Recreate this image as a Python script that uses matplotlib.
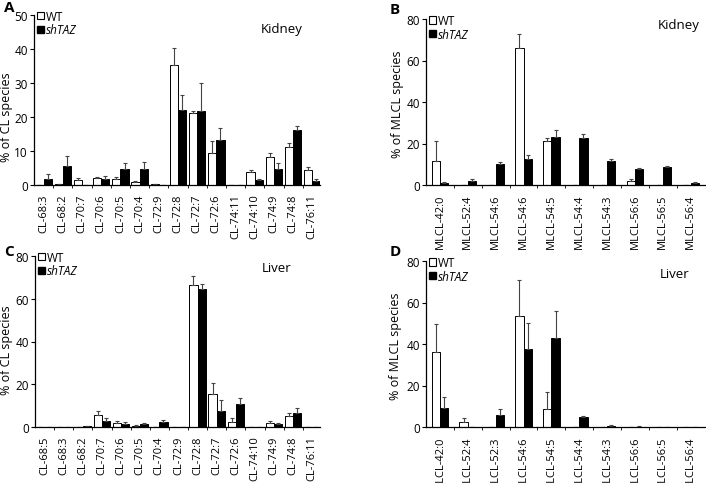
import numpy as np
import matplotlib
matplotlib.use('Agg')
import matplotlib.pyplot as plt
from matplotlib.patches import Patch

plt.rcParams['font.family'] = ['Open Sans', 'DejaVu Sans']

# A: kidney CL species
cl_kidney = ['CL-68:3', 'CL-68:2', 'CL-70:7', 'CL-70:6', 'CL-70:5', 'CL-70:4', 'CL-72:9',
             'CL-72:8', 'CL-72:7', 'CL-72:6', 'CL-74:11', 'CL-74:10', 'CL-74:9', 'CL-74:8', 'CL-76:11']
a_wt = [0.1, 0.3, 1.5, 2.0, 1.8, 0.8, 0.3, 35.3, 21.1, 9.3, 0.1, 3.9, 8.3, 11.1, 4.3]
a_wt_err = [0.0, 0.1, 0.5, 0.5, 0.7, 0.3, 0.0, 5.0, 0.8, 3.5, 0.0, 0.4, 1.0, 1.2, 0.9]
a_sh = [1.9, 5.6, 0.1, 1.9, 4.8, 4.7, 0.1, 22.2, 21.8, 13.2, 0.1, 1.5, 4.6, 16.2, 1.2]
a_sh_err = [1.3, 3.0, 0.0, 0.7, 1.6, 2.2, 0.0, 4.2, 8.2, 3.5, 0.0, 0.3, 1.8, 1.3, 0.6]

# B: kidney MLCL species
mlcl_kidney = ['MLCL-42:0', 'MLCL-52:4', 'MLCL-54:6', 'MLCL-54:6', 'MLCL-54:5', 'MLCL-54:4',
               'MLCL-54:3', 'MLCL-56:6', 'MLCL-56:5', 'MLCL-56:4']
b_wt = [11.4, 0.0, 0.0, 65.8, 21.0, 0.0, 0.0, 1.9, 0.0, 0.0]
b_wt_err = [9.6, 0.0, 0.0, 6.8, 1.5, 0.0, 0.0, 1.2, 0.0, 0.0]
b_sh = [1.0, 2.1, 10.2, 12.7, 23.2, 22.8, 11.4, 7.7, 8.8, 1.2]
b_sh_err = [0.3, 0.8, 0.8, 1.6, 3.2, 2.0, 1.1, 0.4, 0.3, 0.4]

# C: liver CL species
cl_liver = ['CL-68:5', 'CL-68:3', 'CL-68:2', 'CL-70:7', 'CL-70:6', 'CL-70:5', 'CL-70:4', 'CL-72:9',
            'CL-72:8', 'CL-72:7', 'CL-72:6', 'CL-74:10', 'CL-74:9', 'CL-74:8', 'CL-76:11']
c_wt = [0.0, 0.0, 0.0, 5.8, 1.9, 0.5, 0.0, 0.0, 66.5, 15.3, 2.5, 0.0, 1.9, 5.2, 0.0]
c_wt_err = [0.0, 0.0, 0.0, 1.9, 1.1, 0.3, 0.0, 0.0, 4.2, 5.2, 1.5, 0.0, 1.0, 1.3, 0.0]
c_sh = [0.0, 0.0, 0.3, 2.9, 1.6, 1.5, 2.5, 0.0, 64.6, 7.6, 10.8, 0.0, 1.3, 6.6, 0.0]
c_sh_err = [0.0, 0.0, 0.0, 1.3, 0.6, 0.6, 0.9, 0.0, 2.5, 5.1, 2.9, 0.0, 0.8, 2.3, 0.0]

# D: liver MLCL species
mlcl_liver = ['MLCL-42:0', 'MLCL-52:4', 'MLCL-52:3', 'MLCL-54:6', 'MLCL-54:5', 'MLCL-54:4',
              'MLCL-54:3', 'MLCL-56:6', 'MLCL-56:5', 'MLCL-56:4']
d_wt = [36.0, 2.2, 0.0, 53.3, 8.8, 0.0, 0.0, 0.0, 0.0, 0.0]
d_wt_err = [13.8, 2.1, 0.0, 17.7, 8.0, 0.0, 0.0, 0.0, 0.0, 0.0]
d_sh = [9.3, 0.0, 5.6, 37.4, 42.7, 4.6, 0.5, 0.2, 0.0, 0.1]
d_sh_err = [5.3, 0.0, 3.0, 12.5, 13.1, 0.8, 0.4, 0.2, 0.0, 0.0]

W, H = 706, 485
fig = plt.figure(figsize=(W / 100, H / 100), dpi=100)


def px_axes(left, right, bottom, top):
    ax = fig.add_axes([left / W, 1 - bottom / H, (right - left) / W, (bottom - top) / H])
    ax.px = (left, right, bottom, top)
    return ax


def to_axes(ax, px, py):
    # pixel position of the figure -> axes fraction
    left, right, bottom, top = ax.px
    return (px - left) / (right - left), (bottom - py) / (bottom - top)


def draw_panel(ax, cats, wt, wt_err, sh, sh_err, ymax, ystep, ylabel, tissue, letter,
               xlim, width, ylab_px, tissue_px, letter_px):
    x = np.arange(len(cats))
    ekw = dict(ecolor='#444444', elinewidth=0.8, capsize=1.5, capthick=0.8)
    ax.bar(x - width / 2, wt, width, color='white', edgecolor='black', linewidth=0.7,
           yerr=[np.zeros(len(wt)), wt_err], error_kw=ekw)
    ax.bar(x + width / 2, sh, width, color='black', edgecolor='black', linewidth=0.7,
           yerr=[np.zeros(len(sh)), sh_err], error_kw=ekw)
    ax.set_xlim(*xlim)
    ax.set_ylim(0, ymax)
    ax.set_yticks(np.arange(0, ymax + 1, ystep))
    ax.set_xticks(x)
    ax.set_xticklabels(cats, rotation=90, fontsize=8)
    ax.set_xticks(x[:-1] + 0.5, minor=True)
    ax.tick_params(axis='x', which='major', length=0, pad=6)
    ax.tick_params(axis='x', which='minor', length=2, width=0.6, direction='out')
    ax.tick_params(axis='y', length=3, width=0.8, labelsize=8.5, pad=1.5)
    for s in ['top', 'right']:
        ax.spines[s].set_visible(False)
    for s in ['left', 'bottom']:
        ax.spines[s].set_linewidth(0.9)
    ax.set_ylabel(ylabel, fontsize=9, va='center')
    ax.yaxis.set_label_coords(*to_axes(ax, *ylab_px))
    ax.text(*to_axes(ax, *tissue_px), tissue, transform=ax.transAxes, fontsize=9.5,
            ha='center', va='center')
    handles = [Patch(facecolor='white', edgecolor='black', linewidth=0.8),
               Patch(facecolor='black', edgecolor='black')]
    leg = ax.legend(handles, ['WT', 'shTAZ'], loc='upper left', bbox_to_anchor=(0.01, 1.03),
                    frameon=False, fontsize=8.5, handlelength=0.6, handleheight=0.6,
                    handletextpad=0.2, borderaxespad=0, borderpad=0, labelspacing=0.05)
    leg.get_texts()[1].set_style('italic')
    ax.text(*to_axes(ax, *letter_px), letter, transform=ax.transAxes,
            fontsize=11, fontweight='bold', ha='center', va='center')


ax_a = px_axes(34, 320, 186, 16)
draw_panel(ax_a, cl_kidney, a_wt, a_wt_err, a_sh, a_sh_err, 50, 10,
           '% of CL species', 'Kidney', 'A', (-0.5, 14.4), 0.43,
           (7, 117), (282, 29), (9, 8))

ax_b = px_axes(426, 706, 186, 20)
draw_panel(ax_b, mlcl_kidney, b_wt, b_wt_err, b_sh, b_sh_err, 80, 20,
           '% of MLCL species', 'Kidney', 'B', (-0.5, 9.55), 0.3,
           (397, 104), (679, 26), (395, 10))

ax_c = px_axes(35, 320, 428, 257)
draw_panel(ax_c, cl_liver, c_wt, c_wt_err, c_sh, c_sh_err, 80, 20,
           '% of CL species', 'Liver', 'C', (-0.5, 14.4), 0.43,
           (7, 350), (277, 269), (9, 252))

ax_d = px_axes(426, 706, 428, 262)
draw_panel(ax_d, mlcl_liver, d_wt, d_wt_err, d_sh, d_sh_err, 80, 20,
           '% of MLCL species', 'Liver', 'D', (-0.5, 9.55), 0.3,
           (396, 346), (675, 275), (395, 252))

fig.savefig('out.png', dpi=100)
